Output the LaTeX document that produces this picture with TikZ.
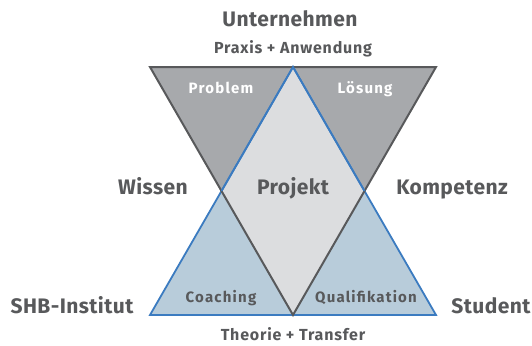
\documentclass[tikz,border=0pt]{standalone}
\usepackage{fontspec}
\setmainfont{Fira Sans}
\newfontfamily\bigf[LetterSpace=2]{Fira Sans}
\newfontfamily\midf[LetterSpace=5]{Fira Sans}
\newfontfamily\smallf[LetterSpace=8]{Fira Sans}
\begin{document}
\begin{tikzpicture}[x=1pt,y=-1pt,
  txt/.style={text=textgray,inner sep=0pt,anchor=base},
  big/.style={txt,font=\bigf\bfseries\fontsize{21}{23}\selectfont},
  mid/.style={txt,font=\midf\bfseries\fontsize{16}{18}\selectfont},
  small/.style={txt,font=\smallf\bfseries\fontsize{15}{17}\selectfont},
  grayline/.style={draw=linegray,line width=2pt,line join=miter},
  blueline/.style={draw=lineblue,line width=1.8pt,line join=miter}]
\definecolor{textgray}{HTML}{58595B}
\definecolor{linegray}{HTML}{58595B}
\definecolor{fillgray}{HTML}{A7A9AC}
\definecolor{lineblue}{HTML}{3B7BC0}
\definecolor{fillblue}{HTML}{B8CCDA}
\definecolor{fillcenter}{HTML}{DCDDDF}
\useasboundingbox (0,0) rectangle (532,345);
\coordinate (TL) at (150,67);
\coordinate (TR) at (436,67);
\coordinate (TM) at (293,67);
\coordinate (BL) at (150,315);
\coordinate (BR) at (436,315);
\coordinate (BM) at (293,315);
\coordinate (IL) at (221.5,191);
\coordinate (IR) at (364.5,191);
\fill[fillgray] (TL) -- (TR) -- (BM) -- cycle;
\fill[fillblue] (BL) -- (TM) -- (BR) -- cycle;
\fill[fillcenter] (TM) -- (IR) -- (BM) -- (IL) -- cycle;
\draw[blueline] (BL) -- (TM) -- (BR) -- cycle;
\draw[grayline] (TL) -- (TR) -- (BM) -- cycle;
\draw[blueline] (IL) -- (TM) -- (IR);
\node[big] (unt) at (290,27) {Unternehmen};
\node[mid] (pra) at (293,53) {Praxis + Anwendung};
\node[small,text=white] (prob) at (221,93) {Problem};
\node[small,text=white] (loes) at (365,93) {Lösung};
\node[big] (wis) at (153,194) {Wissen};
\node[big] (proj) at (293,194) {Projekt};
\node[big] (komp) at (452,194) {Kompetenz};
\node[big] (shb) at (72,313) {SHB-Institut};
\node[big] (stu) at (491,313) {Student};
\node[small] (coa) at (221,302) {Coaching};
\node[small] (qua) at (366,302) {Qualifikation};
\node[mid] (the) at (293,340) {Theorie + Transfer};
\end{tikzpicture}
\end{document}
